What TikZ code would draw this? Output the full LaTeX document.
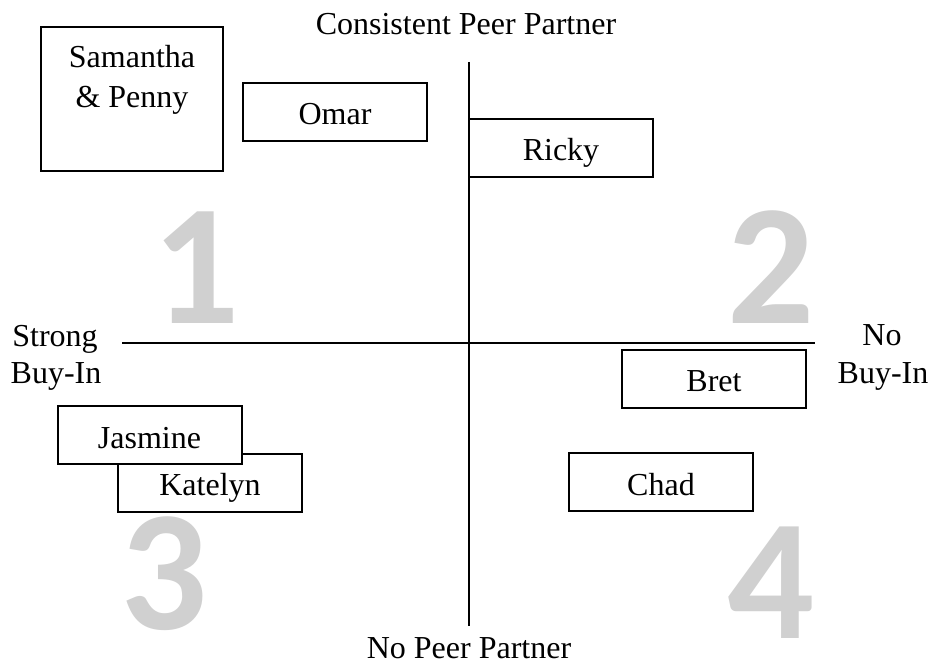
\documentclass[tikz,border=0pt]{standalone}
\usepackage{fontspec}
\setmainfont{Liberation Serif}
\newfontfamily\numfont[BoldFont={Carlito Bold}]{Carlito}
\definecolor{numgray}{HTML}{D0D0D0}
\tikzset{
  person/.style={draw, line width=2pt, fill=white, minimum width=184pt, minimum height=58pt,
    inner sep=0pt, text height=30pt, text depth=4pt},
  bignum/.style={text=numgray, font=\numfont\bfseries\fontsize{172}{172}\selectfont, inner sep=0pt},
  axis/.style={line width=1.6pt},
  lbl/.style={inner sep=0pt, anchor=base}
}
\begin{document}
\begin{tikzpicture}[x=1pt,y=-1pt, every node/.style={font=\fontsize{32}{38}\selectfont}]
\useasboundingbox (0,0) rectangle (931,663);
% big quadrant numbers
\node[bignum] (n1) at (196,268) {1};
\node[bignum] (n2) at (771,267) {2};
\node[bignum] (n3) at (164,574) {3};
\node[bignum] (n4) at (771,583) {4};
% axes
\coordinate (vt) at (469,62);
\coordinate (vb) at (469,626);
\coordinate (hl) at (122,343);
\coordinate (hr) at (815,343);
\draw[axis] (vt) -- (vb);
\draw[axis] (hl) -- (hr);
% axis labels
\node[lbl] (top) at (466,35) {Consistent Peer Partner};
\node[lbl] (bot) at (469,658) {No Peer Partner};
\node[lbl] (l1) at (55,346) {Strong};
\node[lbl] (l2) at (56,383) {Buy-In};
\node[lbl] (r1) at (882,345) {No};
\node[lbl] (r2) at (883,383) {Buy-In};
% boxes
\node[draw, line width=2pt, minimum width=182pt, minimum height=144pt, inner sep=0pt] (sp) at (132,99) {};
\node[lbl] (sp1) at (132,68) {Samantha};
\node[lbl] (sp2) at (132,108) {\& Penny};
\node[person] (omar) at (335,112) {Omar};
\node[person] (ricky) at (561,148) {Ricky};
\node[person] (bret) at (714,378.5) {Bret};
\node[person] (chad) at (661,482) {Chad};
\node[person] (katelyn) at (210,482.5) {Katelyn};
\node[person] (jasmine) at (149.5,435) {Jasmine};
\end{tikzpicture}
\end{document}
